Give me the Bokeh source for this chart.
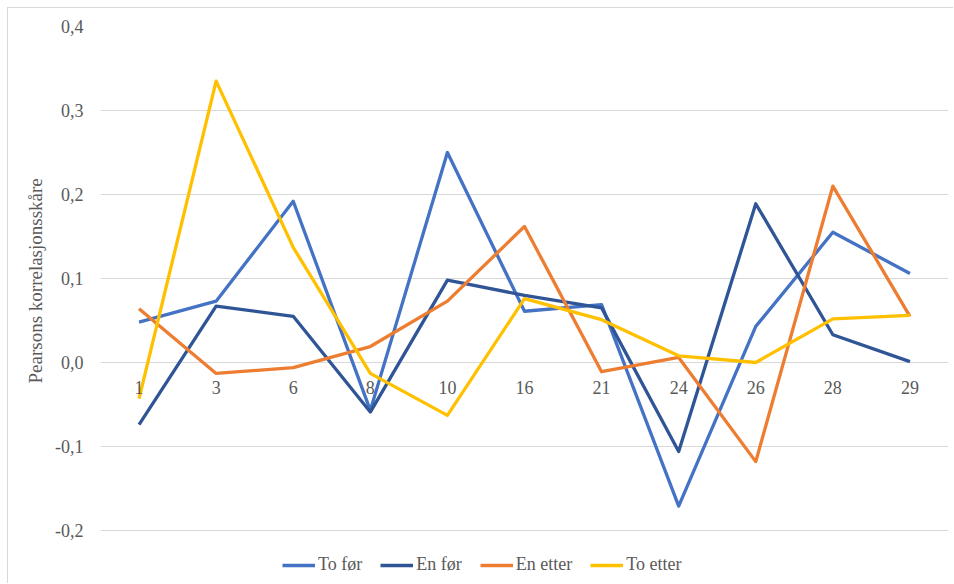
from bokeh.plotting import figure
from bokeh.models import FactorRange, Range1d, FixedTicker, CustomJSTickFormatter, Legend, LegendItem, ColumnDataSource, Title
from bokeh.core.properties import value
from bokeh.embed import file_html
from bokeh.resources import INLINE

categories = ["1", "3", "6", "8", "10", "16", "21", "24", "26", "28", "29"]
to_for = [0.048, 0.073, 0.192, -0.057, 0.250, 0.061, 0.069, -0.171, 0.043, 0.155, 0.106]
en_for = [-0.074, 0.067, 0.055, -0.059, 0.098, 0.080, 0.065, -0.106, 0.189, 0.033, 0.001]
en_etter = [0.064, -0.013, -0.006, 0.019, 0.073, 0.162, -0.011, 0.006, -0.118, 0.210, 0.055]
to_etter = [-0.043, 0.335, 0.137, -0.013, -0.063, 0.076, 0.051, 0.008, 0.000, 0.052, 0.056]
y_ticks = [-0.2, -0.1, 0.0, 0.1, 0.2, 0.3, 0.4]

series = [
    ("To før", to_for, "#4472C4"),
    ("En før", en_for, "#2F5597"),
    ("En etter", en_etter, "#ED7D31"),
    ("To etter", to_etter, "#FFC000"),
]

FONT = "'Liberation Serif', 'Times New Roman', serif"
TXT = "#595959"

# frame reaches the bottom edge so the legend can sit below the lowest gridline
p = figure(
    width=946, height=576,
    x_range=FactorRange(factors=categories),
    y_range=Range1d(-0.2 - 54 / 840, 0.4),
    output_backend="svg", toolbar_location=None,
    min_border_left=92, min_border_right=6, min_border_top=18, min_border_bottom=0,
)
p.styles = {"margin-left": "7px", "margin-top": "7px",
            "border-left": "1px solid #d9d9d9", "border-top": "1px solid #d9d9d9"}
p.outline_line_color = None
p.xaxis.visible = False
p.xgrid.grid_line_color = None
p.ygrid.grid_line_color = "#d9d9d9"
p.ygrid.grid_line_width = 1

yax = p.yaxis[0]
yax.ticker = FixedTicker(ticks=y_ticks)
yax.formatter = CustomJSTickFormatter(code="return tick.toFixed(1).replace('.', ',');")
yax.axis_line_color = None
yax.major_tick_line_color = None
yax.minor_tick_line_color = None
yax.major_label_standoff = 11
yax.major_label_text_font = FONT
yax.major_label_text_font_size = "18px"
yax.major_label_text_color = TXT

ytitle = Title(text="Pearsons korrelasjonsskåre", align="left", offset=201, standoff=13,
               text_font=FONT, text_font_size="19px", text_font_style="normal",
               text_color=TXT)
p.add_layout(ytitle, "left")

items = []
for name, vals, color in series:
    r = p.line(x=categories, y=vals, line_color=color, line_width=3.3, line_join="round")
    items.append(LegendItem(label=name, renderers=[r]))

lab_src = ColumnDataSource(dict(x=categories, y=[0.0] * len(categories), t=categories))
p.text(x="x", y="y", text="t", source=lab_src, text_align="center", text_baseline="middle",
       y_offset=25, text_font=value(FONT), text_font_size="18px", text_color=TXT)

legend = Legend(items=items, orientation="horizontal", location=(182, 9),
                padding=0, margin=0, spacing=18, glyph_width=33, glyph_height=20,
                label_standoff=3, label_text_font=FONT, label_text_font_size="18px",
                label_text_color=TXT, border_line_color=None, background_fill_alpha=0)
p.add_layout(legend, "center")

open("out.html", "w").write(file_html(p, INLINE))
